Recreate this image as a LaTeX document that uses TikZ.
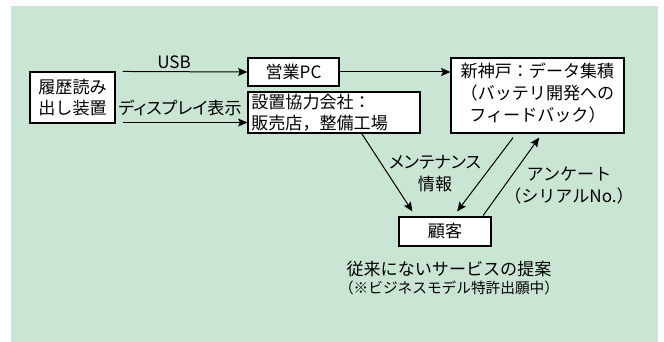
\documentclass[tikz,border=0pt]{standalone}
\usepackage{fontspec}
\setmainfont{Noto Sans CJK JP}
\newfontfamily\pfont{Noto Sans CJK JP}[RawFeature=+palt]
\usetikzlibrary{arrows.meta,calc}
\definecolor{bggreen}{RGB}{202,229,211}
\tikzset{
  box/.style={draw=black,line width=0.8pt,fill=white,inner sep=0pt,align=center,
    font=\fontsize{12.8}{15.5}\selectfont},
  lbl/.style={inner sep=0pt,align=center,font=\fontsize{12.8}{16.5}\selectfont},
  plbl/.style={inner sep=0pt,align=center,font=\pfont\fontsize{12.8}{16.5}\selectfont},
  arr/.style={line width=0.75pt,-{Stealth[length=7pt,width=6pt,inset=1.2pt]}}
}
\begin{document}
\begin{tikzpicture}[x=0.75pt,y=-0.75pt]
\useasboundingbox (0,0) rectangle (664,342);
\fill[bggreen] (11,6) rectangle (658,342);
% boxes
\node[box,minimum width=63.75pt,minimum height=38.25pt] (rd) at (72.5,97.5) {履歴読み\\出し装置};
\node[box,minimum width=68.25pt,minimum height=21pt] (pc) at (293.5,72) {営業PC};
\node[box,minimum width=129pt,minimum height=30.75pt,align=left,inner xsep=2.5pt,
  text width=124pt] (dl) at (334,112.5) {設置協力会社：\\販売店，整備工場};
\node[box,minimum width=129.75pt,minimum height=56.25pt,
  font=\fontsize{12.8}{16.5}\selectfont] (kb) at (537.5,95.5) {\raisebox{-2pt}{\begin{tabular}{@{}c@{}}新神戸：データ集積\\（バッテリ開発への\\フィードバック）\end{tabular}}};
\node[box,minimum width=69pt,minimum height=21.75pt] (cu) at (445,231.5) {顧客};
% labels
\node[lbl] (usb) at (174,62) {USB};
\node[plbl] (disp) at (180,108) {ディスプレイ表示};
\node[plbl] (mnt) at (435,174) {メンテナンス\\情報};
\node[lbl] (enq) at (569,186) {アンケート\\（シリアルNo.）};
\node[inner sep=0pt,align=center] (prop) at (449,278)
  {{\fontsize{12.8}{15}\selectfont 従来にないサービスの提案}\\[1.5pt]{\fontsize{11}{12.5}\selectfont （※ビジネスモデル特許出願中）}};
% connectors
\draw[arr] ($(rd.north east)+(7,0)$) -- (pc.west);
\draw[arr] ($(rd.south east)+(7,-1)$) coordinate (d0) -- (d0 -| dl.west);
\draw[arr] (pc.east) -- (pc.east -| kb.west);
\draw[arr] ($(dl.south west)!0.66!(dl.south east)$) -- ($(cu.north west)!0.15!(cu.north east)+(0,-5)$);
\draw[arr] ($(kb.south west)!0.36!(kb.south east)+(0,4)$) -- ($(cu.north west)!0.63!(cu.north east)+(0,-5)$);
\draw[arr] ($(cu.north west)!0.91!(cu.north east)+(0,-1)$) -- ($(kb.south west)!0.51!(kb.south east)+(0,4)$);
\end{tikzpicture}
\end{document}
